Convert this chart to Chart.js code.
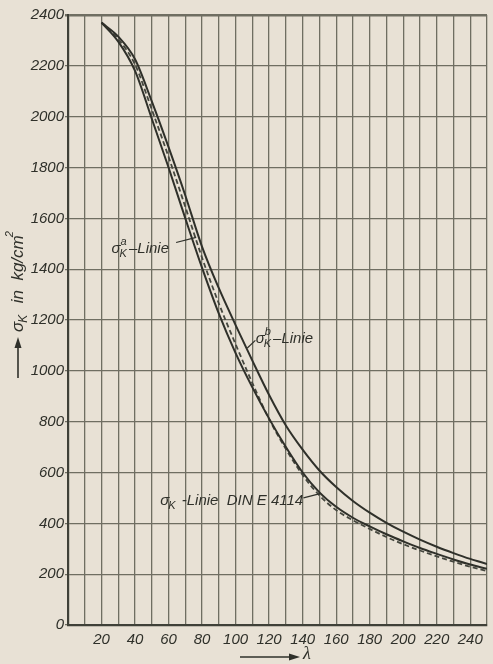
<!DOCTYPE html>
<html>
<head>
<meta charset="utf-8">
<script src="https://cdn.jsdelivr.net/npm/chart.js@4.4.0/dist/chart.umd.min.js"></script>
<style>
  html, body { margin: 0; padding: 0; background: #e8e1d5; }
  #wrap { width: 493px; height: 664px; }
</style>
</head>
<body>
<div id="wrap"><canvas id="myChart" width="493" height="664"></canvas></div>
<script>
// slenderness ratio lambda and the three buckling stress curves (kg/cm2)
var lambdas  = [20, 30, 40, 50, 60, 70, 80, 90, 100, 110, 120, 130, 140, 150, 160, 170, 180, 190, 200, 210, 220, 230, 240, 250];
var sigmaA   = [2370, 2295, 2180, 1992, 1800, 1600, 1405, 1225, 1070, 935, 812, 700, 600, 522, 465, 422, 388, 357, 329, 303, 280, 258, 238, 221];
var sigmaB   = [2370, 2315, 2226, 2060, 1880, 1690, 1488, 1325, 1180, 1040, 905, 785, 690, 608, 543, 488, 442, 402, 367, 336, 308, 283, 260, 240];
var sigmaDIN = [2370, 2305, 2205, 2028, 1842, 1645, 1445, 1265, 1105, 952, 810, 692, 590, 510, 452, 412, 378, 346, 318, 293, 270, 249, 229, 212];
var xTickLabels = [20, 40, 60, 80, 100, 120, 140, 160, 180, 200, 220, 240];
var yTickLabels = [0, 200, 400, 600, 800, 1000, 1200, 1400, 1600, 1800, 2000, 2200, 2400];

var ink = '#2f302a';
var gridInk = '#6f6e62';
var fam = '"Liberation Sans", "DejaVu Sans", sans-serif';

function toPoints(ys) {
    return lambdas.map(function (l, i) { return { x: l, y: ys[i] }; });
}

// sigma with subscript K and optional superscript, then the rest of the text
function drawSigma(c, x, y, sup, rest, size) {
    c.font = 'italic ' + size + 'px ' + fam;
    c.textBaseline = 'middle';
    c.textAlign = 'left';
    c.fillText('σ', x, y);
    var w = c.measureText('σ').width;
    c.font = 'italic ' + Math.round(size * 0.7) + 'px ' + fam;
    c.fillText('K', x + w - 1, y + size * 0.35);
    var ws = c.measureText('K').width;
    if (sup) c.fillText(sup, x + w, y - size * 0.45);
    c.font = 'italic ' + size + 'px ' + fam;
    c.fillText(rest, x + w + ws + 1, y);
    return w + ws + 1 + c.measureText(rest).width;
}

var annotations = {
    id: 'annotations',
    afterDraw: function (chart) {
        var c = chart.ctx;
        var xs = chart.scales.x, ys = chart.scales.y;
        c.save();
        c.fillStyle = ink;
        c.strokeStyle = ink;
        c.lineWidth = 1.2;

        // sigma_K^a label with leader
        drawSigma(c, xs.getPixelForValue(26), ys.getPixelForValue(1480), 'a', '–Linie', 15);
        c.beginPath();
        c.moveTo(xs.getPixelForValue(64.5), ys.getPixelForValue(1505));
        c.lineTo(xs.getPixelForValue(76.5), ys.getPixelForValue(1525));
        c.stroke();

        // sigma_K^b label with leader
        drawSigma(c, xs.getPixelForValue(112), ys.getPixelForValue(1125), 'b', '–Linie', 15);
        c.beginPath();
        c.moveTo(xs.getPixelForValue(111.8), ys.getPixelForValue(1120));
        c.lineTo(xs.getPixelForValue(107), ys.getPixelForValue(1090));
        c.stroke();

        // DIN line label with leader
        drawSigma(c, xs.getPixelForValue(55), ys.getPixelForValue(490), '', ' -Linie  DIN E 4114', 15);
        c.beginPath();
        c.moveTo(xs.getPixelForValue(140.5), ys.getPixelForValue(500));
        c.lineTo(xs.getPixelForValue(151), ys.getPixelForValue(518));
        c.stroke();

        // lambda axis arrow
        c.lineWidth = 1.6;
        c.beginPath();
        c.moveTo(240, 657);
        c.lineTo(296, 657);
        c.stroke();
        c.beginPath();
        c.moveTo(300, 657);
        c.lineTo(289, 653.5);
        c.lineTo(289, 660.5);
        c.closePath();
        c.fill();
        c.font = 'italic 18px "Liberation Serif", "DejaVu Serif", serif';
        c.textBaseline = 'middle';
        c.textAlign = 'left';
        c.fillText('λ', 303, 654);

        // vertical axis title, rotated
        c.translate(18, 378);
        c.rotate(-Math.PI / 2);
        c.beginPath();
        c.moveTo(0, 0);
        c.lineTo(36, 0);
        c.stroke();
        c.beginPath();
        c.moveTo(41, 0);
        c.lineTo(30, -3.5);
        c.lineTo(30, 3.5);
        c.closePath();
        c.fill();
        var tw = drawSigma(c, 46, 0, '', '  in  kg/cm', 17);
        c.font = 'italic 11px ' + fam;
        c.fillText('2', 46 + tw - 2, -8);
        c.restore();
    }
};

var myChart = new Chart(document.getElementById('myChart'), {
    type: 'line',
    data: {
        datasets: [
            {
                label: 'σK a-Linie',
                data: toPoints(sigmaA),
                borderColor: ink,
                borderWidth: 2,
                pointRadius: 0,
                cubicInterpolationMode: 'monotone'
            },
            {
                label: 'σK b-Linie',
                data: toPoints(sigmaB),
                borderColor: ink,
                borderWidth: 2,
                pointRadius: 0,
                cubicInterpolationMode: 'monotone'
            },
            {
                label: 'σK-Linie DIN E 4114',
                data: toPoints(sigmaDIN),
                borderColor: '#45473f',
                borderWidth: 1.8,
                borderDash: [5, 3],
                pointRadius: 0,
                cubicInterpolationMode: 'monotone'
            }
        ]
    },
    options: {
        responsive: false,
        animation: false,
        layout: { padding: { top: 15, right: 0, left: 0, bottom: 0 } },
        plugins: {
            legend: { display: false },
            tooltip: { enabled: false }
        },
        scales: {
            x: {
                type: 'linear',
                min: 0,
                max: 250,
                afterFit: function (s) { s.height = 39; },
                border: { color: '#3f4038', width: 2.2 },
                grid: {
                    color: gridInk,
                    lineWidth: 1.3,
                    tickLength: 0,
                    drawTicks: false
                },
                ticks: {
                    stepSize: 10,
                    autoSkip: false,
                    maxRotation: 0,
                    padding: 6,
                    color: ink,
                    font: { family: fam, size: 15, style: 'italic' },
                    callback: function (v) { return xTickLabels.indexOf(v) >= 0 ? String(v) : ''; }
                }
            },
            y: {
                min: 0,
                max: 2400,
                afterFit: function (s) { s.width = 68; },
                border: { color: '#3f4038', width: 2.2 },
                grid: {
                    color: gridInk,
                    lineWidth: function (ctx) { return ctx.tick && ctx.tick.value === 2400 ? 2.6 : 1.3; },
                    tickLength: 3
                },
                ticks: {
                    stepSize: 200,
                    padding: 1,
                    color: ink,
                    font: { family: fam, size: 15, style: 'italic' },
                    callback: function (v) { return yTickLabels.indexOf(v) >= 0 ? String(v) : ''; }
                }
            }
        }
    },
    plugins: [annotations]
});
</script>
</body>
</html>
